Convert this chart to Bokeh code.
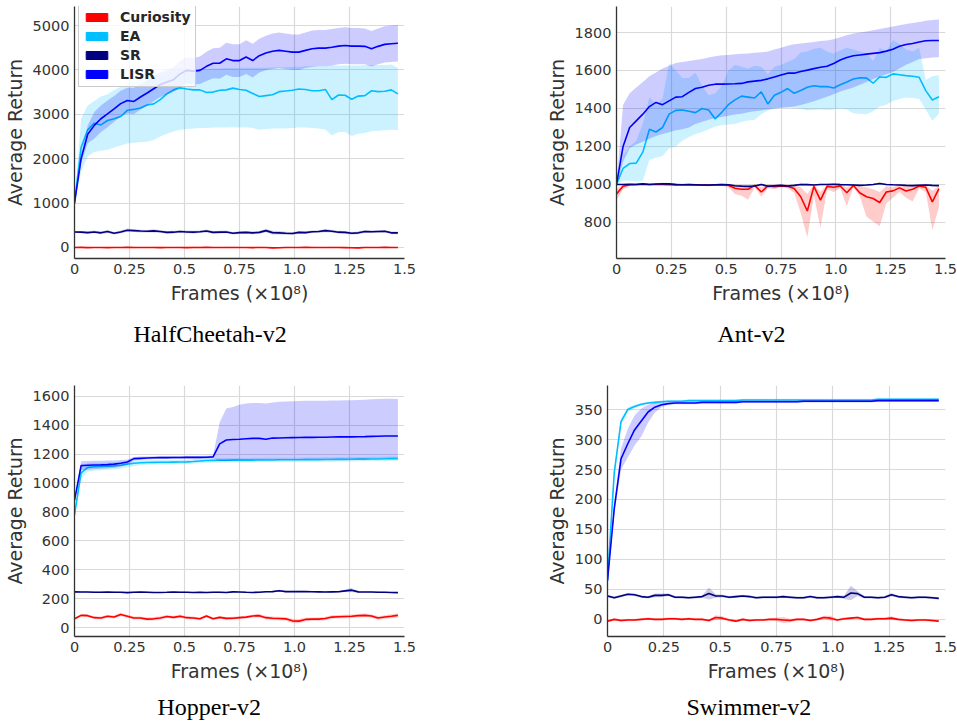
from bokeh.plotting import figure
from bokeh.layouts import row, column
from bokeh.models import Range1d, FixedTicker, Legend, LegendItem, Title
from bokeh.embed import file_html
from bokeh.resources import INLINE

# ---------------- data ----------------
frames = [0.0, 0.03, 0.06, 0.09, 0.12, 0.15, 0.18, 0.21, 0.24, 0.27, 0.3, 0.33, 0.36, 0.39, 0.42,
          0.45, 0.48, 0.51, 0.54, 0.57, 0.6, 0.63, 0.66, 0.69, 0.72, 0.75, 0.78, 0.81, 0.84, 0.87,
          0.9, 0.93, 0.96, 0.99, 1.02, 1.05, 1.08, 1.11, 1.14, 1.17, 1.2, 1.23, 1.26, 1.29, 1.32,
          1.35, 1.38, 1.41, 1.44, 1.47]
x_ticks = [0, 0.25, 0.5, 0.75, 1.0, 1.25, 1.5]
x_tick_labels = ["0", "0.25", "0.5", "0.75", "1.0", "1.25", "1.5"]
methods = ["Curiosity", "EA", "SR", "LISR"]

# HalfCheetah-v2
hc_cur = [0, 2, -3, 1, 0, -2, 1, 0, 2, 0, -1, 1, 0, -2, 0, 1, 0, -3, 1, 0, 2, 0, -1, 0, 1, 0, 0, -2, 1, 0,
          -8, -5, 0, 1, 0, 2, 0, -1, 0, 1, 0, -2, -5, -8, 0, 1, 0, 2, 0, 0]
hc_cur_sd = [5, 8, 10, 12, 12, 12, 14, 12, 12, 15, 12, 12, 14, 16, 12, 12, 14, 14, 20, 18, 14, 12, 12, 14, 14,
             12, 12, 14, 14, 12, 20, 18, 14, 12, 12, 14, 14, 12, 12, 14, 14, 12, 18, 20, 14, 12, 12, 14, 14, 12]
hc_ea = [1000, 2250, 2650, 2800, 2760, 2860, 2900, 2950, 3090, 3110, 3140, 3210, 3235, 3330, 3460, 3550, 3595,
         3570, 3550, 3550, 3490, 3500, 3540, 3550, 3590, 3560, 3540, 3470, 3400, 3420, 3440, 3510, 3525, 3540,
         3570, 3560, 3530, 3530, 3560, 3330, 3435, 3430, 3340, 3410, 3420, 3530, 3510, 3520, 3550, 3460]
hc_ea_hi = [1000, 2900, 3200, 3300, 3400, 3450, 3550, 3620, 3690, 3740, 3800, 3850, 3880, 3920, 3960, 3990, 4000,
            4010, 4010, 4020, 4020, 4030, 4030, 4040, 4040, 4040, 4050, 4050, 4050, 4050, 4060, 4060, 4060, 4070,
            4070, 4080, 4080, 4080, 4090, 4100, 4100, 4100, 4100, 4100, 4110, 4110, 4110, 4110, 4120, 4050]
hc_ea_lo = [1000, 1700, 2050, 2150, 2180, 2200, 2250, 2300, 2340, 2360, 2370, 2380, 2420, 2500, 2560, 2610, 2650,
            2670, 2680, 2690, 2690, 2700, 2700, 2700, 2710, 2700, 2710, 2690, 2650, 2670, 2680, 2680, 2680, 2690,
            2700, 2700, 2690, 2680, 2660, 2520, 2600, 2600, 2510, 2560, 2580, 2620, 2630, 2640, 2650, 2640]
hc_sr = [350, 345, 335, 350, 330, 360, 320, 350, 390, 380, 370, 365, 375, 360, 340, 345, 360, 350, 345, 355, 370,
         340, 345, 350, 320, 335, 340, 330, 340, 380, 335, 330, 320, 315, 340, 335, 355, 360, 380, 365, 345, 340,
         320, 330, 360, 355, 360, 365, 330, 330]
hc_sr_sd = [20, 25, 25, 30, 30, 35, 30, 30, 35, 30, 30, 30, 35, 30, 30, 30, 30, 30, 30, 30, 35, 30, 30, 30, 30, 30,
            30, 30, 30, 35, 40, 40, 35, 30, 30, 30, 30, 30, 35, 30, 30, 30, 30, 30, 35, 30, 30, 30, 30, 30]
hc_lisr = [1000, 2000, 2550, 2750, 2900, 3010, 3120, 3240, 3310, 3290, 3390, 3480, 3575, 3670, 3725, 3780, 3910,
           3990, 3970, 3990, 4080, 4150, 4150, 4250, 4210, 4210, 4290, 4210, 4320, 4380, 4420, 4440, 4420, 4400,
           4400, 4440, 4475, 4490, 4490, 4510, 4535, 4550, 4535, 4535, 4530, 4475, 4530, 4575, 4590, 4600]
hc_lisr_hi = [1000, 2100, 2750, 3050, 3200, 3310, 3410, 3530, 3600, 3600, 3670, 3760, 3855, 3950, 4005, 4060, 4200,
              4280, 4270, 4300, 4410, 4490, 4500, 4610, 4580, 4580, 4670, 4590, 4700, 4770, 4820, 4840, 4820, 4800,
              4800, 4840, 4885, 4900, 4900, 4920, 4945, 4960, 4945, 4945, 4930, 4875, 4930, 4985, 5000, 5010]
hc_lisr_lo = [1000, 1900, 2350, 2450, 2600, 2710, 2830, 2950, 3020, 3000, 3110, 3200, 3295, 3390, 3445, 3500, 3620,
              3700, 3670, 3680, 3750, 3810, 3800, 3890, 3840, 3840, 3910, 3830, 3940, 3990, 4020, 4040, 4020, 4000,
              4000, 4040, 4065, 4080, 4080, 4100, 4125, 4140, 4125, 4125, 4130, 4075, 4130, 4165, 4180, 4190]

# Ant-v2
ant_cur = [950, 990, 998, 1000, 1001, 1000, 1000, 1000, 999, 999, 998, 998, 997, 997, 996, 997, 998, 996, 980, 975,
           975, 995, 960, 992, 988, 992, 990, 978, 935, 860, 990, 917, 990, 985, 992, 956, 994, 955, 935, 926, 905,
           960, 966, 982, 965, 975, 992, 985, 908, 978]
ant_cur_lo = [920, 975, 990, 995, 996, 995, 995, 995, 994, 994, 993, 993, 992, 992, 991, 992, 993, 985, 950, 940,
              920, 985, 935, 980, 975, 985, 980, 955, 850, 720, 940, 770, 975, 960, 980, 885, 985, 935, 830, 805,
              780, 900, 930, 960, 930, 910, 980, 960, 760, 880]
ant_cur_hi = [975, 1000, 1003, 1004, 1005, 1004, 1004, 1004, 1003, 1003, 1003, 1003, 1002, 1002, 1002, 1002, 1003,
              1001, 995, 992, 990, 1000, 985, 1000, 998, 1000, 998, 995, 985, 950, 1000, 960, 998, 995, 1000, 985,
              1000, 990, 985, 975, 960, 990, 985, 1000, 990, 995, 1000, 998, 965, 995]
ant_ea = [1000, 1085, 1110, 1112, 1170, 1290, 1276, 1300, 1370, 1390, 1392, 1385, 1378, 1400, 1392, 1345, 1380,
          1420, 1445, 1465, 1460, 1455, 1488, 1424, 1470, 1485, 1505, 1480, 1495, 1512, 1520, 1515, 1516, 1508,
          1525, 1540, 1555, 1562, 1560, 1533, 1566, 1564, 1582, 1578, 1573, 1570, 1564, 1494, 1445, 1462]
ant_ea_hi = [1000, 1150, 1200, 1230, 1320, 1460, 1420, 1450, 1640, 1600, 1560, 1560, 1590, 1520, 1470, 1480, 1520,
             1600, 1630, 1620, 1610, 1625, 1620, 1580, 1620, 1630, 1645, 1660, 1695, 1700, 1715, 1720, 1700, 1690,
             1705, 1720, 1710, 1700, 1690, 1650, 1720, 1700, 1760, 1740, 1710, 1700, 1720, 1550, 1570, 1575]
ant_ea_lo = [1000, 1020, 1020, 1015, 1020, 1130, 1140, 1150, 1190, 1200, 1230, 1250, 1265, 1276, 1290, 1305, 1312,
             1315, 1318, 1330, 1337, 1340, 1370, 1390, 1400, 1405, 1405, 1403, 1398, 1389, 1392, 1395, 1392, 1395,
             1400, 1395, 1375, 1372, 1370, 1385, 1410, 1420, 1440, 1450, 1458, 1455, 1450, 1395, 1335, 1372]
ant_sr = [1000, 1000, 1001, 1000, 1003, 1000, 1002, 1004, 1003, 999, 998, 999, 998, 997, 997, 998, 999, 998, 993,
          991, 990, 992, 1000, 990, 993, 995, 992, 995, 1000, 999, 997, 1000, 1000, 1001, 999, 998, 997, 995, 997,
          1000, 1005, 1000, 998, 997, 995, 994, 996, 997, 995, 994]
ant_sr_sd = [2, 3, 4, 4, 5, 4, 4, 5, 4, 4, 4, 4, 4, 4, 4, 4, 4, 4, 5, 5, 5, 5, 5, 5, 5, 5, 5, 5, 5, 4, 4, 4, 4, 4,
             4, 4, 4, 5, 5, 4, 5, 4, 4, 4, 4, 4, 4, 4, 4, 4]
ant_lisr = [1000, 1200, 1300, 1335, 1370, 1410, 1432, 1420, 1440, 1460, 1462, 1485, 1505, 1512, 1522, 1528, 1528,
            1529, 1530, 1532, 1540, 1544, 1548, 1556, 1566, 1576, 1586, 1586, 1595, 1602, 1610, 1617, 1622, 1637,
            1655, 1668, 1678, 1682, 1686, 1690, 1694, 1702, 1712, 1728, 1737, 1742, 1750, 1757, 1758, 1758]
ant_lisr_hi = [1000, 1420, 1480, 1510, 1540, 1570, 1590, 1610, 1625, 1640, 1645, 1650, 1655, 1660, 1668, 1675, 1680,
               1682, 1685, 1688, 1690, 1693, 1696, 1700, 1710, 1720, 1730, 1738, 1742, 1746, 1750, 1755, 1758, 1765,
               1775, 1785, 1795, 1800, 1805, 1812, 1818, 1825, 1832, 1838, 1845, 1850, 1856, 1862, 1866, 1868]
ant_lisr_lo = [1000, 1120, 1190, 1210, 1225, 1240, 1255, 1265, 1275, 1285, 1290, 1300, 1318, 1330, 1340, 1350, 1355,
               1362, 1368, 1372, 1380, 1385, 1390, 1395, 1400, 1403, 1406, 1410, 1418, 1428, 1438, 1450, 1462, 1475,
               1490, 1500, 1510, 1525, 1540, 1555, 1568, 1580, 1592, 1610, 1630, 1645, 1660, 1665, 1668, 1670]

# Hopper-v2
hop_cur = [62, 86, 84, 70, 68, 80, 75, 92, 80, 68, 68, 60, 62, 68, 78, 72, 80, 70, 68, 62, 82, 62, 72, 65, 66, 70,
           74, 82, 84, 70, 66, 64, 62, 48, 46, 58, 60, 60, 64, 74, 76, 78, 80, 84, 86, 82, 68, 75, 80, 86]
hop_cur_sd = [8, 10, 10, 10, 10, 10, 10, 12, 10, 10, 10, 12, 12, 12, 10, 10, 12, 10, 10, 10, 10, 10, 10, 10, 10, 10,
              10, 10, 12, 12, 12, 12, 12, 14, 14, 12, 12, 12, 12, 12, 12, 12, 12, 12, 12, 12, 12, 12, 14, 14]
hop_ea = [780, 1070, 1108, 1112, 1114, 1116, 1118, 1122, 1130, 1136, 1140, 1141, 1142, 1143, 1143, 1144, 1145, 1146,
          1148, 1152, 1155, 1156, 1157, 1157, 1158, 1158, 1158, 1158, 1159, 1159, 1159, 1160, 1160, 1160, 1160, 1161,
          1161, 1161, 1162, 1162, 1163, 1163, 1164, 1165, 1165, 1166, 1166, 1167, 1168, 1168]
hop_ea_sd = [0, 40, 30, 28, 26, 25, 25, 24, 22, 20, 18, 16, 15, 15, 15, 15, 15, 15, 15, 15, 15, 15, 15, 15, 15, 15,
             15, 15, 15, 15, 15, 15, 15, 15, 15, 15, 15, 15, 15, 15, 15, 15, 15, 15, 15, 15, 15, 15, 15, 15]
hop_sr = [248, 247, 247, 246, 246, 247, 246, 245, 243, 246, 247, 246, 244, 244, 245, 247, 246, 245, 244, 245, 244,
          246, 246, 244, 248, 247, 245, 244, 246, 249, 250, 256, 250, 250, 251, 250, 249, 248, 247, 248, 249, 255,
          260, 248, 247, 247, 246, 245, 244, 243]
hop_sr_sd = [4, 4, 4, 4, 4, 4, 4, 4, 4, 4, 4, 4, 4, 4, 4, 4, 4, 4, 4, 4, 4, 4, 4, 4, 4, 4, 4, 4, 4, 5, 5, 7, 5, 5,
             5, 5, 4, 4, 4, 4, 5, 8, 14, 5, 4, 4, 4, 4, 4, 4]
hop_lisr = [880, 1120, 1122, 1124, 1125, 1127, 1130, 1136, 1145, 1168, 1170, 1172, 1174, 1175, 1175, 1176, 1176,
            1177, 1177, 1177, 1178, 1180, 1270, 1297, 1300, 1302, 1305, 1308, 1308, 1302, 1310, 1311, 1312, 1313,
            1314, 1315, 1315, 1316, 1316, 1317, 1318, 1318, 1318, 1319, 1320, 1322, 1323, 1324, 1324, 1324]
hop_lisr_hi = [880, 1150, 1152, 1153, 1154, 1155, 1156, 1158, 1162, 1180, 1182, 1183, 1184, 1185, 1185, 1186, 1186,
               1187, 1187, 1187, 1188, 1190, 1420, 1515, 1525, 1540, 1548, 1552, 1552, 1548, 1556, 1560, 1562, 1564,
               1566, 1567, 1567, 1568, 1568, 1569, 1570, 1571, 1572, 1573, 1575, 1578, 1580, 1582, 1582, 1580]
hop_lisr_lo = [880, 1090, 1092, 1095, 1098, 1100, 1105, 1112, 1125, 1156, 1160, 1162, 1164, 1165, 1165, 1166, 1166,
               1167, 1167, 1167, 1168, 1170, 1150, 1150, 1155, 1158, 1160, 1160, 1160, 1160, 1162, 1162, 1163, 1163,
               1164, 1164, 1165, 1165, 1165, 1166, 1166, 1167, 1167, 1168, 1168, 1170, 1170, 1172, 1172, 1172]

# Swimmer-v2
sw_cur = [-3, 0, -2, -1, -1, 0, 1, 0, 0, 1, 1, 0, 1, 0, 0, -2, 3, 2, -1, -3, 0, -2, -1, -1, 0, 0, -1, -2, 0, 0,
          -2, 0, 3, 2, -1, 1, 2, 3, 0, 0, 1, 1, 2, 0, -1, -2, -1, -1, -2, -3]
sw_cur_sd = [2, 2, 2, 2, 2, 2, 2, 2, 2, 2, 2, 2, 2, 2, 2, 2, 4, 3, 2, 2, 2, 2, 2, 2, 2, 3, 5, 3, 2, 2, 2, 2, 3, 4,
             2, 2, 2, 2, 2, 2, 2, 2, 3, 2, 2, 2, 2, 2, 2, 2]
sw_ea = [65, 245, 330, 350, 355, 359, 361, 362, 363, 364, 364, 364, 365, 365, 365, 365, 365, 365, 365, 365, 366,
         366, 366, 366, 366, 366, 366, 366, 366, 366, 366, 366, 366, 366, 366, 366, 366, 366, 366, 366, 367, 367,
         367, 367, 367, 367, 367, 367, 367, 367]
sw_ea_sd = [0, 6, 5, 4, 3, 2, 2, 2, 2, 2, 2, 2, 2, 2, 2, 2, 2, 2, 2, 2, 2, 2, 2, 2, 2, 2, 2, 2, 2, 2, 2, 2, 2, 2,
            2, 2, 2, 2, 2, 2, 2, 2, 2, 2, 2, 2, 2, 2, 2, 2]
sw_sr = [39, 36, 39, 42, 41, 38, 37, 40, 40, 41, 37, 37, 36, 37, 38, 43, 39, 39, 37, 38, 39, 38, 36, 37, 37, 37,
         38, 37, 36, 36, 38, 36, 36, 37, 38, 37, 44, 43, 37, 37, 36, 37, 41, 38, 37, 36, 37, 37, 36, 35]
sw_sr_sd = [2, 2, 2, 2, 2, 2, 2, 3, 3, 2, 2, 2, 2, 2, 2, 10, 3, 2, 2, 2, 2, 2, 2, 2, 2, 2, 2, 2, 2, 2, 2, 2, 2, 2,
            2, 3, 12, 4, 2, 2, 2, 2, 3, 2, 2, 2, 2, 2, 2, 2]
sw_lisr = [65, 185, 268, 293, 316, 331, 346, 354, 358, 360, 361, 361, 361, 361, 362, 362, 362, 362, 362, 362, 363,
           363, 363, 363, 363, 363, 363, 363, 363, 364, 364, 364, 364, 364, 364, 364, 364, 364, 364, 364, 365, 365,
           365, 365, 365, 365, 365, 365, 365, 365]
sw_lisr_hi = [65, 195, 285, 318, 340, 352, 358, 361, 362, 362, 363, 363, 363, 363, 364, 364, 364, 364, 364, 364, 365,
              365, 365, 365, 365, 365, 365, 365, 365, 366, 366, 366, 366, 366, 366, 366, 366, 366, 366, 366, 367, 367,
              367, 367, 367, 367, 367, 367, 367, 367]
sw_lisr_lo = [65, 175, 250, 270, 290, 305, 328, 345, 354, 358, 359, 359, 359, 359, 360, 360, 360, 360, 360, 360, 361,
              361, 361, 361, 361, 361, 361, 361, 361, 362, 362, 362, 362, 362, 362, 362, 362, 362, 362, 362, 363, 363,
              363, 363, 363, 363, 363, 363, 363, 363]

colors = {"Curiosity": "#FF0000", "EA": "#00BFFF", "SR": "#000080", "LISR": "#0000FF"}
TEXT_COLOR = "#333333"


def sym(mean, sd):
    return ([m - s for m, s in zip(mean, sd)], [m + s for m, s in zip(mean, sd)])


def panel(width, height, mbl, mbr, mbt, mbb, yr, yticks, caption, cap_offset, series,
          legend=None, cap_standoff=20):
    p = figure(width=width, height=height, output_backend="svg", toolbar_location=None,
               x_range=Range1d(0, 1.5), y_range=Range1d(*yr),
               min_border_left=mbl, min_border_right=mbr, min_border_top=mbt, min_border_bottom=mbb)
    p.outline_line_color = None
    p.border_fill_color = "white"
    p.background_fill_color = "white"

    for name, mean, lo, hi in series:
        c = colors[name]
        p.line(frames, mean, line_color=c, line_width=1.6)
        p.varea(x=frames, y1=lo, y2=hi, fill_color=c, fill_alpha=0.2)

    p.xaxis.ticker = FixedTicker(ticks=x_ticks)
    p.xaxis.major_label_overrides = {t: s for t, s in zip(x_ticks, x_tick_labels)}
    p.yaxis.ticker = FixedTicker(ticks=yticks)
    p.xaxis.axis_label = "Frames (×10⁸)"
    p.yaxis.axis_label = "Average Return"
    for ax in (p.xaxis[0], p.yaxis[0]):
        ax.axis_line_color = "#333333"
        ax.axis_line_width = 1.3
        ax.major_tick_line_color = None
        ax.minor_tick_line_color = None
        ax.major_tick_out = 0
        ax.major_tick_in = 0
        ax.minor_tick_out = 0
        ax.major_label_text_font = "DejaVu Sans"
        ax.major_label_text_font_size = "14.5px"
        ax.major_label_text_color = TEXT_COLOR
        ax.axis_label_text_font = "DejaVu Sans"
        ax.axis_label_text_font_size = "19px"
        ax.axis_label_text_font_style = "normal"
        ax.axis_label_text_color = TEXT_COLOR
    p.xaxis.major_label_standoff = 5
    p.xaxis.axis_label_standoff = 5
    p.yaxis.major_label_standoff = 5
    p.yaxis.axis_label_standoff = 4
    p.xgrid.ticker = FixedTicker(ticks=x_ticks)
    p.ygrid.ticker = FixedTicker(ticks=yticks)
    for g in (p.xgrid[0], p.ygrid[0]):
        g.grid_line_color = "#d9d9d9"
        g.grid_line_width = 1.2

    if legend is not None:
        items = []
        for name in methods:
            c = colors[name]
            # legend swatch renderer, placed left of the visible x range
            r = p.quad(left=[-3], right=[-2], top=[1], bottom=[0], fill_color=c, line_color=c, fill_alpha=1.0)
            items.append(LegendItem(label=name, renderers=[r]))
        lg = Legend(items=items, location=legend, margin=0, padding=4, spacing=3,
                    glyph_width=27, glyph_height=10, label_height=16, label_standoff=10,
                    label_text_font="DejaVu Sans", label_text_font_style="bold",
                    label_text_font_size="14px", label_text_color="#262626",
                    border_line_color="#cccccc", border_line_width=1, border_line_alpha=1.0,
                    background_fill_color="white", background_fill_alpha=0.8)
        p.add_layout(lg)

    t = Title(text=caption, align="left", offset=cap_offset, text_font="Liberation Serif",
              text_font_size="24px", text_font_style="normal", text_color="black", standoff=cap_standoff)
    p.add_layout(t, "below")
    return p


hc_series = [("Curiosity", hc_cur, *sym(hc_cur, hc_cur_sd)), ("EA", hc_ea, hc_ea_lo, hc_ea_hi),
             ("SR", hc_sr, *sym(hc_sr, hc_sr_sd)), ("LISR", hc_lisr, hc_lisr_lo, hc_lisr_hi)]
ant_series = [("Curiosity", ant_cur, ant_cur_lo, ant_cur_hi), ("EA", ant_ea, ant_ea_lo, ant_ea_hi),
              ("SR", ant_sr, *sym(ant_sr, ant_sr_sd)), ("LISR", ant_lisr, ant_lisr_lo, ant_lisr_hi)]
hop_series = [("Curiosity", hop_cur, *sym(hop_cur, hop_cur_sd)), ("EA", hop_ea, *sym(hop_ea, hop_ea_sd)),
              ("SR", hop_sr, *sym(hop_sr, hop_sr_sd)), ("LISR", hop_lisr, hop_lisr_lo, hop_lisr_hi)]
sw_series = [("Curiosity", sw_cur, *sym(sw_cur, sw_cur_sd)), ("EA", sw_ea, *sym(sw_ea, sw_ea_sd)),
             ("SR", sw_sr, *sym(sw_sr, sw_sr_sd)), ("LISR", sw_lisr, sw_lisr_lo, sw_lisr_hi)]

p1 = panel(530, 368, 74, 126, 6, 110, (-248, 5428), [0, 1000, 2000, 3000, 4000, 5000],
           "HalfCheetah-v2", 59, hc_series, legend=(4, 171), cap_standoff=24)
p2 = panel(427, 368, 86, 12, 6, 110, (610, 1937), [800, 1000, 1200, 1400, 1600, 1800],
           "Ant-v2", 101, ant_series, cap_standoff=24)
p3 = panel(530, 358, 74, 126, 17, 88, (-60, 1673), [0, 200, 400, 600, 800, 1000, 1200, 1400, 1600],
           "Hopper-v2", 83, hop_series, cap_standoff=14)
p4 = panel(427, 358, 77, 12, 17, 88, (-28.6, 390.2), [0, 50, 100, 150, 200, 250, 300, 350],
           "Swimmer-v2", 79, sw_series, cap_standoff=14)

layout = column(row(p1, p2), row(p3, p4))
open("out.html", "w").write(file_html(layout, INLINE))
